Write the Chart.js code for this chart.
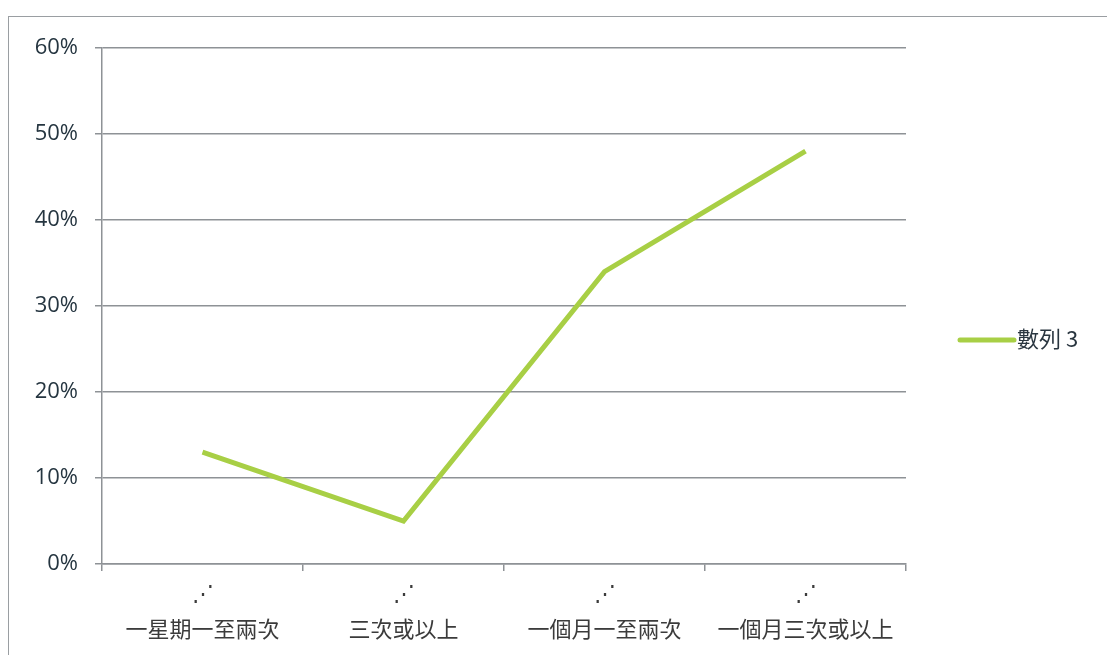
<!DOCTYPE html>
<html>
<head>
<meta charset="utf-8">
<script src="https://cdn.jsdelivr.net/npm/chart.js@4"></script>
<style>
  html, body { margin: 0; padding: 0; background: #fff; }
  #wrap { position: relative; width: 1107px; height: 655px; overflow: hidden; }
  #frame { position: absolute; left: 8px; top: 16px; right: -10px; bottom: -10px;
           border-top: 1.5px solid #9a9ea2; border-left: 1.5px solid #9a9ea2; }
  canvas { position: absolute; left: 0; top: 0; }
</style>
</head>
<body>
<div id="wrap">
  <div id="frame"></div>
  <canvas id="lineChart" width="1107" height="655"></canvas>
</div>
<script>
// Categories (handwritten labels, with the small mark above each one)
const categories = ["一星期一至兩次", "三次或以上", "一個月一至兩次", "一個月三次或以上"];
const marks = ["⋰", "⋰", "⋰", "⋰"];
// Series values in percent
const seriesName = "數列 3";
const seriesValues = [13, 5, 34, 48];
// Y axis ticks
const yTicks = [0, 10, 20, 30, 40, 50, 60];

const lineColor = "#a8cf45";
const gridColor = "#8e9296";

// Draws the right-hand legend entry: a short thick line and the series name
const sideLegend = {
  id: "sideLegend",
  afterDraw(chart) {
    const ctx = chart.ctx;
    const ds = chart.data.datasets[0];
    const y = (chart.chartArea.top + chart.chartArea.bottom) / 2 + 34;
    ctx.save();
    ctx.strokeStyle = ds.borderColor;
    ctx.lineWidth = 5;
    ctx.lineCap = "round";
    ctx.beginPath();
    ctx.moveTo(960, y);
    ctx.lineTo(1014, y);
    ctx.stroke();
    ctx.fillStyle = "#2a3640";
    ctx.font = "22px 'Noto Sans CJK TC', 'Open Sans', sans-serif";
    ctx.textBaseline = "middle";
    ctx.fillText(ds.label, 1017, y - 1);
    ctx.restore();
  }
};

new Chart(document.getElementById("lineChart").getContext("2d"), {
  type: "line",
  data: {
    labels: categories.map((c, i) => [marks[i], c]),
    datasets: [{
      label: seriesName,
      data: seriesValues,
      borderColor: lineColor,
      borderWidth: 5,
      pointRadius: 0,
      tension: 0,
      fill: false
    }]
  },
  options: {
    responsive: false,
    animation: false,
    layout: { padding: { top: 48, right: 201, left: 0, bottom: 0 } },
    plugins: { legend: { display: false }, tooltip: { enabled: false } },
    scales: {
      x: {
        offset: true,
        grid: { offset: true, drawOnChartArea: false, drawTicks: true, tickLength: 7, color: gridColor, lineWidth: 1.5 },
        border: { display: true, color: gridColor, width: 1.5 },
        ticks: {
          color: "#3b3b3b",
          padding: 3,
          maxRotation: 0,
          font: { family: "'Noto Sans CJK TC', sans-serif", size: 22, lineHeight: 1.65 }
        },
        afterFit(scale) { scale.height = 91; }
      },
      y: {
        min: 0,
        max: 60,
        afterBuildTicks(scale) { scale.ticks = yTicks.map(v => ({ value: v })); },
        grid: { color: gridColor, lineWidth: 1.5, tickLength: 7 },
        border: { display: true, color: gridColor, width: 1.5 },
        ticks: {
          color: "#253540",
          padding: 17,
          font: { family: "'Open Sans', sans-serif", size: 22 },
          callback: v => v + "%"
        },
        afterFit(scale) { scale.width = 102; }
      }
    }
  },
  plugins: [sideLegend]
});
</script>
</body>
</html>
